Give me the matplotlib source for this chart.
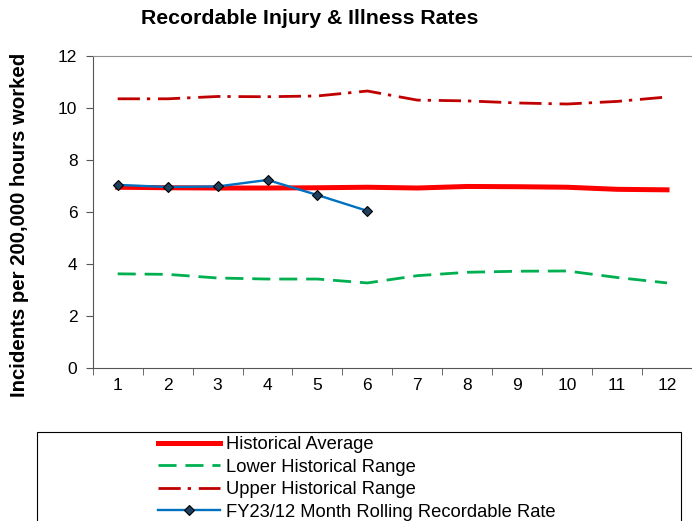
import matplotlib.pyplot as plt
from matplotlib.patches import Rectangle

plt.rcParams["font.family"] = ["Liberation Sans", "DejaVu Sans"]

months = list(range(1, 13))
hist_avg = [6.95, 6.93, 6.92, 6.92, 6.93, 6.95, 6.92, 6.98, 6.97, 6.95, 6.87, 6.85]
lower_range = [3.62, 3.60, 3.46, 3.42, 3.42, 3.27, 3.55, 3.68, 3.72, 3.73, 3.48, 3.27]
upper_range = [10.35, 10.35, 10.44, 10.43, 10.46, 10.65, 10.30, 10.27, 10.19, 10.15, 10.25, 10.42]
fy23_months = [1, 2, 3, 4, 5, 6]
fy23_rate = [7.04, 6.96, 6.98, 7.23, 6.65, 6.04]


def main() -> None:
    fig = plt.figure(figsize=(6.92, 5.21), dpi=100)
    ax = fig.add_axes([0.134, 0.2937, 0.866, 0.599])

    ax.plot(months, hist_avg, color="#ff0000", linewidth=3.6, label="Historical Average")
    ax.plot(months, lower_range, color="#00b050", linewidth=2.0, dashes=(6.5, 3.2),
            label="Lower Historical Range")
    ax.plot(months, upper_range, color="#c00000", linewidth=2.0, dashes=(8, 2.5, 1.2, 2.8),
            label="Upper Historical Range")
    ax.plot(fy23_months, fy23_rate, color="#0070c0", linewidth=1.7, marker="D",
            markersize=5.5, markerfacecolor="#1f3f5f", markeredgecolor="black",
            markeredgewidth=0.8, label="FY23/12 Month Rolling Recordable Rate")

    ax.set_xlim(0.5, 12.5)
    ax.set_ylim(0, 12)
    ax.set_xticks(months)
    ax.set_xticks([m + 0.5 for m in range(0, 12)], minor=True)
    ax.set_yticks(range(0, 13, 2))
    ax.tick_params(axis="x", which="major", length=0, labelsize=12.5, pad=7)
    ax.tick_params(axis="x", which="minor", length=5, direction="out", color="#555555")
    ax.tick_params(axis="y", length=5, labelsize=12.5, pad=6, color="#555555")
    ax.spines["right"].set_visible(False)
    ax.spines["top"].set_color("#909090")
    ax.spines["left"].set_color("#555555")
    ax.spines["bottom"].set_color("#555555")

    fig.text(0.028, 0.568, "Incidents per 200,000 hours worked", rotation=90,
             ha="center", va="center", fontsize=14.7, fontweight="bold")
    fig.text(0.448, 0.965, "Recordable Injury & Illness Rates", ha="center",
             va="center", fontsize=15.3, fontweight="bold")

    fig.patches.append(Rectangle((0.0535, -0.01), 0.93, 0.18, transform=fig.transFigure,
                                 fill=False, edgecolor="black", linewidth=0.8))
    handles, labels = ax.get_legend_handles_labels()
    fig.legend(handles, labels, loc="upper left", bbox_to_anchor=(0.228, 0.163),
               frameon=False, fontsize=13.2, handlelength=3.4, handletextpad=0.3,
               labelspacing=0.3, borderpad=0, borderaxespad=0)

    fig.savefig("out.png", dpi=100)
    plt.close(fig)


if __name__ == "__main__":
    main()
